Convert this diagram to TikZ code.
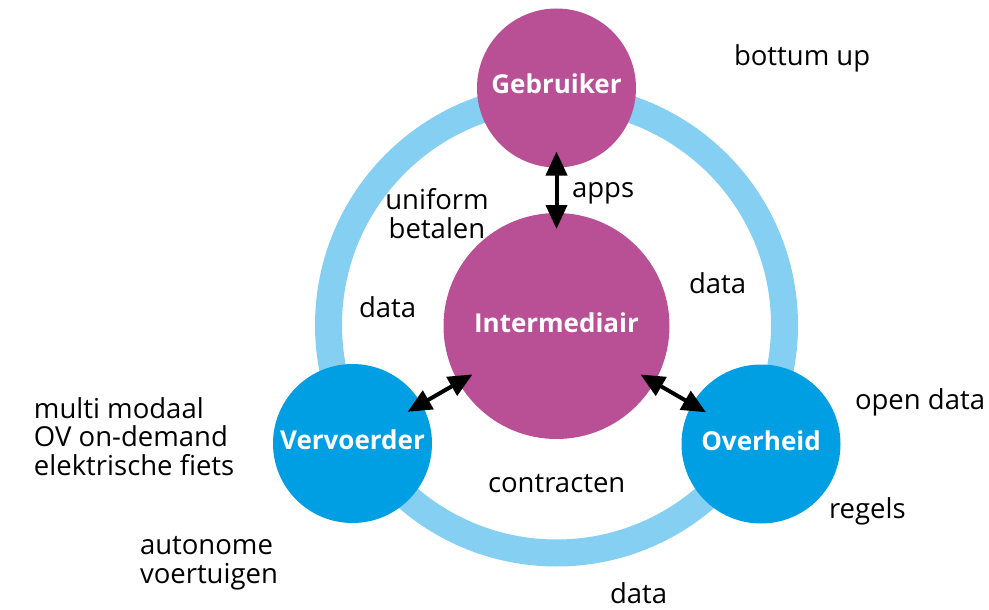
\documentclass[tikz,border=0pt]{standalone}
\usepackage{fontspec}
\setmainfont{Open Sans}
\usetikzlibrary{arrows.meta}

\definecolor{mymagenta}{RGB}{185,79,148}
\definecolor{myblue}{RGB}{0,159,227}
\definecolor{mylightblue}{RGB}{133,208,242}

\begin{document}
\begin{tikzpicture}[x=1pt, y=-1pt, line width=4pt,
  hub/.style={circle, fill=mymagenta, inner sep=0pt, text=white,
    text height=12pt, text depth=0pt,
    font=\fontsize{26}{28}\selectfont\bfseries},
  actor/.style={circle, fill=myblue, inner sep=0pt, minimum size=159pt,
    text=white, text height=12pt, text depth=0pt,
    font=\fontsize{26}{28}\selectfont\bfseries},
  note/.style={inner sep=0pt, anchor=base west, align=left,
    font=\fontsize{27.5}{28.5}\selectfont},
  twoway/.style={{Triangle[length=24pt,width=21pt]}-{Triangle[length=24pt,width=21pt]},
    shorten <=-18pt, shorten >=-18pt}]
  % Parameters
  \def\rring{228}  % Ring radius
  \def\wring{27pt} % Ring width
  \useasboundingbox (0,0) rectangle (989,610);
  % Ring
  \draw[mylightblue, line width=\wring] (556.5,325) circle[radius=\rring pt];
  % Circles
  \node[hub, minimum size=159pt] (geb) at (556.5,88) {Gebruiker};
  \node[hub, minimum size=226pt] (int) at (556.5,326) {Intermediair};
  \node[actor] (verv) at (352.5,443.5) {Vervoerder};
  \node[actor] (overh) at (761,444) {Overheid};
  % Arrows
  \draw[twoway] (geb) -- (int);
  \draw[twoway] (verv) -- (int);
  \draw[twoway] (overh) -- (int);
  % Labels (base = last line)
  \node[note] (apps) at (570,197) {apps};
  \node[note, anchor=base, align=center] (betalen) at (437,238) {uniform\\betalen};
  \node[note] (dataleft) at (357,317) {data};
  \node[note] (dataright) at (687,293) {data};
  \node[note] (contracten) at (486,492) {contracten};
  \node[note] (databottom) at (608,603) {data};
  \node[note] (bottumup) at (732,66) {bottum up};
  \node[note] (opendata) at (853,409) {open data};
  \node[note] (regels) at (827,518) {regels};
  \node[note] (modes) at (32,475) {multi modaal\\OV on-demand\\elektrische fiets};
  \node[note] (autonoom) at (138,583) {autonome\\voertuigen};
\end{tikzpicture}
\end{document}
